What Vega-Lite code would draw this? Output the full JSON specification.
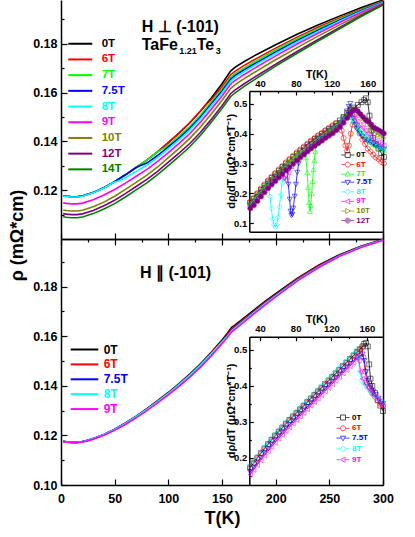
{
"$schema": "https://vega.github.io/schema/vega-lite/v6.json",
"width": 415, "height": 537, "autosize": "none", "padding": 0,
"config": {
  "font": "Liberation Sans",
  "view": {"stroke": null},
  "axis": {"grid": false, "domainColor": "#000000", "domainWidth": 1.5, "tickColor": "#000000", "tickWidth": 1.2, "labelColor": "#000000", "titleColor": "#000000", "labelFontWeight": "bold", "titleFontWeight": "bold", "labelFlush": false, "labelOverlap": false, "labelFont": "Liberation Sans", "titleFont": "Liberation Sans"},
  "legend": {"labelFont": "Liberation Sans", "labelFontWeight": "bold", "padding": 0, "offset": 0}
},
"datasets": {
"top": [
{"T":2,"v":0.1177,"f":"0T"},{"T":5,"v":0.1175,"f":"0T"},{"T":10,"v":0.1173,"f":"0T"},{"T":15,"v":0.1173,"f":"0T"},{"T":20,"v":0.1176,"f":"0T"},{"T":30,"v":0.119,"f":"0T"},{"T":40,"v":0.121,"f":"0T"},{"T":50,"v":0.1235,"f":"0T"},{"T":60,"v":0.1263,"f":"0T"},{"T":70,"v":0.1293,"f":"0T"},{"T":80,"v":0.1323,"f":"0T"},{"T":90,"v":0.1357,"f":"0T"},{"T":100,"v":0.1395,"f":"0T"},{"T":110,"v":0.1434,"f":"0T"},{"T":120,"v":0.1476,"f":"0T"},{"T":130,"v":0.1524,"f":"0T"},{"T":140,"v":0.1578,"f":"0T"},{"T":150,"v":0.1636,"f":"0T"},{"T":158,"v":0.1688,"f":"0T"},{"T":162,"v":0.1703,"f":"0T"},{"T":170,"v":0.1725,"f":"0T"},{"T":180,"v":0.175,"f":"0T"},{"T":200,"v":0.1796,"f":"0T"},{"T":220,"v":0.1839,"f":"0T"},{"T":240,"v":0.1878,"f":"0T"},{"T":260,"v":0.1914,"f":"0T"},{"T":280,"v":0.1948,"f":"0T"},{"T":300,"v":0.1979,"f":"0T"},
{"T":2,"v":0.1177,"f":"6T"},{"T":5,"v":0.1175,"f":"6T"},{"T":10,"v":0.1173,"f":"6T"},{"T":15,"v":0.1173,"f":"6T"},{"T":20,"v":0.1176,"f":"6T"},{"T":30,"v":0.119,"f":"6T"},{"T":40,"v":0.121,"f":"6T"},{"T":50,"v":0.1235,"f":"6T"},{"T":60,"v":0.1263,"f":"6T"},{"T":70,"v":0.1293,"f":"6T"},{"T":80,"v":0.1323,"f":"6T"},{"T":90,"v":0.1357,"f":"6T"},{"T":100,"v":0.1395,"f":"6T"},{"T":110,"v":0.1434,"f":"6T"},{"T":120,"v":0.1476,"f":"6T"},{"T":130,"v":0.1524,"f":"6T"},{"T":134,"v":0.1545,"f":"6T"},{"T":137,"v":0.1558,"f":"6T"},{"T":140,"v":0.1571,"f":"6T"},{"T":150,"v":0.1624,"f":"6T"},{"T":158,"v":0.1673,"f":"6T"},{"T":162,"v":0.1687,"f":"6T"},{"T":170,"v":0.1709,"f":"6T"},{"T":180,"v":0.1734,"f":"6T"},{"T":200,"v":0.1782,"f":"6T"},{"T":220,"v":0.1827,"f":"6T"},{"T":240,"v":0.1868,"f":"6T"},{"T":260,"v":0.1906,"f":"6T"},{"T":280,"v":0.1942,"f":"6T"},{"T":300,"v":0.1975,"f":"6T"},
{"T":2,"v":0.1177,"f":"7T"},{"T":5,"v":0.1175,"f":"7T"},{"T":10,"v":0.1173,"f":"7T"},{"T":15,"v":0.1173,"f":"7T"},{"T":20,"v":0.1176,"f":"7T"},{"T":30,"v":0.119,"f":"7T"},{"T":40,"v":0.121,"f":"7T"},{"T":50,"v":0.1235,"f":"7T"},{"T":60,"v":0.1263,"f":"7T"},{"T":70,"v":0.1293,"f":"7T"},{"T":80,"v":0.1323,"f":"7T"},{"T":90,"v":0.1357,"f":"7T"},{"T":93,"v":0.1365,"f":"7T"},{"T":96,"v":0.1372,"f":"7T"},{"T":100,"v":0.1384,"f":"7T"},{"T":110,"v":0.1421,"f":"7T"},{"T":120,"v":0.1461,"f":"7T"},{"T":130,"v":0.1508,"f":"7T"},{"T":140,"v":0.1561,"f":"7T"},{"T":150,"v":0.1614,"f":"7T"},{"T":158,"v":0.1662,"f":"7T"},{"T":162,"v":0.1677,"f":"7T"},{"T":170,"v":0.1699,"f":"7T"},{"T":180,"v":0.1725,"f":"7T"},{"T":200,"v":0.1774,"f":"7T"},{"T":220,"v":0.182,"f":"7T"},{"T":240,"v":0.1862,"f":"7T"},{"T":260,"v":0.1902,"f":"7T"},{"T":280,"v":0.1939,"f":"7T"},{"T":300,"v":0.1973,"f":"7T"},
{"T":2,"v":0.1177,"f":"7.5T"},{"T":5,"v":0.1175,"f":"7.5T"},{"T":10,"v":0.1173,"f":"7.5T"},{"T":15,"v":0.1173,"f":"7.5T"},{"T":20,"v":0.1176,"f":"7.5T"},{"T":30,"v":0.119,"f":"7.5T"},{"T":40,"v":0.121,"f":"7.5T"},{"T":50,"v":0.1235,"f":"7.5T"},{"T":60,"v":0.1263,"f":"7.5T"},{"T":70,"v":0.1293,"f":"7.5T"},{"T":73,"v":0.1299,"f":"7.5T"},{"T":76,"v":0.1304,"f":"7.5T"},{"T":80,"v":0.1311,"f":"7.5T"},{"T":90,"v":0.1342,"f":"7.5T"},{"T":100,"v":0.1377,"f":"7.5T"},{"T":110,"v":0.1413,"f":"7.5T"},{"T":120,"v":0.1453,"f":"7.5T"},{"T":130,"v":0.15,"f":"7.5T"},{"T":140,"v":0.1553,"f":"7.5T"},{"T":150,"v":0.1606,"f":"7.5T"},{"T":158,"v":0.1654,"f":"7.5T"},{"T":162,"v":0.1669,"f":"7.5T"},{"T":170,"v":0.1691,"f":"7.5T"},{"T":180,"v":0.1717,"f":"7.5T"},{"T":200,"v":0.1766,"f":"7.5T"},{"T":220,"v":0.1813,"f":"7.5T"},{"T":240,"v":0.1856,"f":"7.5T"},{"T":260,"v":0.1897,"f":"7.5T"},{"T":280,"v":0.1936,"f":"7.5T"},{"T":300,"v":0.1971,"f":"7.5T"},
{"T":2,"v":0.1176,"f":"8T"},{"T":5,"v":0.1174,"f":"8T"},{"T":10,"v":0.1172,"f":"8T"},{"T":15,"v":0.1172,"f":"8T"},{"T":20,"v":0.1175,"f":"8T"},{"T":30,"v":0.1189,"f":"8T"},{"T":40,"v":0.1209,"f":"8T"},{"T":48,"v":0.1229,"f":"8T"},{"T":52,"v":0.1236,"f":"8T"},{"T":56,"v":0.1242,"f":"8T"},{"T":62,"v":0.1256,"f":"8T"},{"T":70,"v":0.1277,"f":"8T"},{"T":80,"v":0.1303,"f":"8T"},{"T":90,"v":0.1334,"f":"8T"},{"T":100,"v":0.1369,"f":"8T"},{"T":110,"v":0.1406,"f":"8T"},{"T":120,"v":0.1446,"f":"8T"},{"T":130,"v":0.1493,"f":"8T"},{"T":140,"v":0.1546,"f":"8T"},{"T":150,"v":0.1598,"f":"8T"},{"T":158,"v":0.1646,"f":"8T"},{"T":162,"v":0.1661,"f":"8T"},{"T":170,"v":0.1684,"f":"8T"},{"T":180,"v":0.171,"f":"8T"},{"T":200,"v":0.176,"f":"8T"},{"T":220,"v":0.1807,"f":"8T"},{"T":240,"v":0.1851,"f":"8T"},{"T":260,"v":0.1893,"f":"8T"},{"T":280,"v":0.1933,"f":"8T"},{"T":300,"v":0.1969,"f":"8T"},
{"T":2,"v":0.1148,"f":"9T"},{"T":5,"v":0.1146,"f":"9T"},{"T":10,"v":0.1144,"f":"9T"},{"T":15,"v":0.1144,"f":"9T"},{"T":20,"v":0.1147,"f":"9T"},{"T":30,"v":0.1161,"f":"9T"},{"T":40,"v":0.118,"f":"9T"},{"T":50,"v":0.1203,"f":"9T"},{"T":60,"v":0.1229,"f":"9T"},{"T":70,"v":0.1257,"f":"9T"},{"T":80,"v":0.1285,"f":"9T"},{"T":90,"v":0.1318,"f":"9T"},{"T":100,"v":0.1354,"f":"9T"},{"T":110,"v":0.1392,"f":"9T"},{"T":120,"v":0.1432,"f":"9T"},{"T":130,"v":0.1479,"f":"9T"},{"T":140,"v":0.1532,"f":"9T"},{"T":150,"v":0.1586,"f":"9T"},{"T":158,"v":0.1635,"f":"9T"},{"T":162,"v":0.1649,"f":"9T"},{"T":170,"v":0.1672,"f":"9T"},{"T":180,"v":0.1699,"f":"9T"},{"T":200,"v":0.175,"f":"9T"},{"T":220,"v":0.1799,"f":"9T"},{"T":240,"v":0.1844,"f":"9T"},{"T":260,"v":0.1888,"f":"9T"},{"T":280,"v":0.1929,"f":"9T"},{"T":300,"v":0.1967,"f":"9T"},
{"T":2,"v":0.1119,"f":"10T"},{"T":5,"v":0.1117,"f":"10T"},{"T":10,"v":0.1115,"f":"10T"},{"T":15,"v":0.1115,"f":"10T"},{"T":20,"v":0.1118,"f":"10T"},{"T":30,"v":0.1132,"f":"10T"},{"T":40,"v":0.1151,"f":"10T"},{"T":50,"v":0.1175,"f":"10T"},{"T":60,"v":0.1203,"f":"10T"},{"T":70,"v":0.1232,"f":"10T"},{"T":80,"v":0.1262,"f":"10T"},{"T":90,"v":0.1295,"f":"10T"},{"T":100,"v":0.1333,"f":"10T"},{"T":110,"v":0.1371,"f":"10T"},{"T":120,"v":0.1412,"f":"10T"},{"T":130,"v":0.1459,"f":"10T"},{"T":140,"v":0.1512,"f":"10T"},{"T":150,"v":0.1567,"f":"10T"},{"T":158,"v":0.1616,"f":"10T"},{"T":162,"v":0.1631,"f":"10T"},{"T":170,"v":0.1655,"f":"10T"},{"T":180,"v":0.1682,"f":"10T"},{"T":200,"v":0.1734,"f":"10T"},{"T":220,"v":0.1784,"f":"10T"},{"T":240,"v":0.1832,"f":"10T"},{"T":260,"v":0.1878,"f":"10T"},{"T":280,"v":0.1922,"f":"10T"},{"T":300,"v":0.1964,"f":"10T"},
{"T":2,"v":0.1104,"f":"12T"},{"T":5,"v":0.1102,"f":"12T"},{"T":10,"v":0.11,"f":"12T"},{"T":15,"v":0.11,"f":"12T"},{"T":20,"v":0.1103,"f":"12T"},{"T":30,"v":0.1117,"f":"12T"},{"T":40,"v":0.1136,"f":"12T"},{"T":50,"v":0.1159,"f":"12T"},{"T":60,"v":0.1186,"f":"12T"},{"T":70,"v":0.1215,"f":"12T"},{"T":80,"v":0.1244,"f":"12T"},{"T":90,"v":0.1277,"f":"12T"},{"T":100,"v":0.1315,"f":"12T"},{"T":110,"v":0.1352,"f":"12T"},{"T":120,"v":0.1391,"f":"12T"},{"T":130,"v":0.1437,"f":"12T"},{"T":140,"v":0.149,"f":"12T"},{"T":150,"v":0.1546,"f":"12T"},{"T":158,"v":0.1595,"f":"12T"},{"T":162,"v":0.161,"f":"12T"},{"T":170,"v":0.1634,"f":"12T"},{"T":180,"v":0.1662,"f":"12T"},{"T":200,"v":0.1716,"f":"12T"},{"T":220,"v":0.1768,"f":"12T"},{"T":240,"v":0.1818,"f":"12T"},{"T":260,"v":0.1868,"f":"12T"},{"T":280,"v":0.1916,"f":"12T"},{"T":300,"v":0.1961,"f":"12T"},
{"T":2,"v":0.1091,"f":"14T"},{"T":5,"v":0.1089,"f":"14T"},{"T":10,"v":0.1087,"f":"14T"},{"T":15,"v":0.1087,"f":"14T"},{"T":20,"v":0.109,"f":"14T"},{"T":30,"v":0.1104,"f":"14T"},{"T":40,"v":0.1123,"f":"14T"},{"T":50,"v":0.1145,"f":"14T"},{"T":60,"v":0.1172,"f":"14T"},{"T":70,"v":0.1201,"f":"14T"},{"T":80,"v":0.123,"f":"14T"},{"T":90,"v":0.1264,"f":"14T"},{"T":100,"v":0.1301,"f":"14T"},{"T":110,"v":0.1338,"f":"14T"},{"T":120,"v":0.1378,"f":"14T"},{"T":130,"v":0.1425,"f":"14T"},{"T":140,"v":0.1478,"f":"14T"},{"T":150,"v":0.1534,"f":"14T"},{"T":158,"v":0.1583,"f":"14T"},{"T":162,"v":0.1598,"f":"14T"},{"T":170,"v":0.1623,"f":"14T"},{"T":180,"v":0.1652,"f":"14T"},{"T":200,"v":0.1708,"f":"14T"},{"T":220,"v":0.1761,"f":"14T"},{"T":240,"v":0.1812,"f":"14T"},{"T":260,"v":0.1862,"f":"14T"},{"T":280,"v":0.1912,"f":"14T"},{"T":300,"v":0.1958,"f":"14T"}
],
"bot": [
{"T":2,"v":0.1176,"f":"0T"},{"T":5,"v":0.1174,"f":"0T"},{"T":10,"v":0.1172,"f":"0T"},{"T":15,"v":0.1172,"f":"0T"},{"T":20,"v":0.1175,"f":"0T"},{"T":25,"v":0.118,"f":"0T"},{"T":30,"v":0.1187,"f":"0T"},{"T":40,"v":0.1204,"f":"0T"},{"T":50,"v":0.1225,"f":"0T"},{"T":60,"v":0.125,"f":"0T"},{"T":70,"v":0.1278,"f":"0T"},{"T":80,"v":0.1308,"f":"0T"},{"T":90,"v":0.134,"f":"0T"},{"T":100,"v":0.1373,"f":"0T"},{"T":110,"v":0.1409,"f":"0T"},{"T":120,"v":0.1447,"f":"0T"},{"T":130,"v":0.1489,"f":"0T"},{"T":140,"v":0.1535,"f":"0T"},{"T":150,"v":0.1585,"f":"0T"},{"T":155,"v":0.1612,"f":"0T"},{"T":159,"v":0.1636,"f":"0T"},{"T":162,"v":0.1645,"f":"0T"},{"T":170,"v":0.1672,"f":"0T"},{"T":180,"v":0.1706,"f":"0T"},{"T":190,"v":0.174,"f":"0T"},{"T":200,"v":0.1772,"f":"0T"},{"T":220,"v":0.1833,"f":"0T"},{"T":240,"v":0.1886,"f":"0T"},{"T":260,"v":0.193,"f":"0T"},{"T":280,"v":0.1964,"f":"0T"},{"T":300,"v":0.199,"f":"0T"},
{"T":2,"v":0.1176,"f":"6T"},{"T":5,"v":0.1174,"f":"6T"},{"T":10,"v":0.1172,"f":"6T"},{"T":15,"v":0.1172,"f":"6T"},{"T":20,"v":0.1175,"f":"6T"},{"T":25,"v":0.118,"f":"6T"},{"T":30,"v":0.1187,"f":"6T"},{"T":40,"v":0.1204,"f":"6T"},{"T":50,"v":0.1224,"f":"6T"},{"T":60,"v":0.1249,"f":"6T"},{"T":70,"v":0.1276,"f":"6T"},{"T":80,"v":0.1306,"f":"6T"},{"T":90,"v":0.1338,"f":"6T"},{"T":100,"v":0.137,"f":"6T"},{"T":110,"v":0.1406,"f":"6T"},{"T":120,"v":0.1444,"f":"6T"},{"T":130,"v":0.1486,"f":"6T"},{"T":140,"v":0.1532,"f":"6T"},{"T":150,"v":0.1581,"f":"6T"},{"T":155,"v":0.1607,"f":"6T"},{"T":159,"v":0.163,"f":"6T"},{"T":162,"v":0.1639,"f":"6T"},{"T":170,"v":0.1667,"f":"6T"},{"T":180,"v":0.1701,"f":"6T"},{"T":190,"v":0.1736,"f":"6T"},{"T":200,"v":0.1768,"f":"6T"},{"T":220,"v":0.183,"f":"6T"},{"T":240,"v":0.1883,"f":"6T"},{"T":260,"v":0.1928,"f":"6T"},{"T":280,"v":0.1963,"f":"6T"},{"T":300,"v":0.1989,"f":"6T"},
{"T":2,"v":0.1176,"f":"7.5T"},{"T":5,"v":0.1174,"f":"7.5T"},{"T":10,"v":0.1172,"f":"7.5T"},{"T":15,"v":0.1172,"f":"7.5T"},{"T":20,"v":0.1175,"f":"7.5T"},{"T":25,"v":0.118,"f":"7.5T"},{"T":30,"v":0.1187,"f":"7.5T"},{"T":40,"v":0.1204,"f":"7.5T"},{"T":50,"v":0.1224,"f":"7.5T"},{"T":60,"v":0.1248,"f":"7.5T"},{"T":70,"v":0.1275,"f":"7.5T"},{"T":80,"v":0.1304,"f":"7.5T"},{"T":90,"v":0.1335,"f":"7.5T"},{"T":100,"v":0.1367,"f":"7.5T"},{"T":110,"v":0.1403,"f":"7.5T"},{"T":120,"v":0.144,"f":"7.5T"},{"T":130,"v":0.1481,"f":"7.5T"},{"T":140,"v":0.1527,"f":"7.5T"},{"T":150,"v":0.1576,"f":"7.5T"},{"T":155,"v":0.1601,"f":"7.5T"},{"T":159,"v":0.1624,"f":"7.5T"},{"T":162,"v":0.1634,"f":"7.5T"},{"T":170,"v":0.1662,"f":"7.5T"},{"T":180,"v":0.1697,"f":"7.5T"},{"T":190,"v":0.1731,"f":"7.5T"},{"T":200,"v":0.1764,"f":"7.5T"},{"T":220,"v":0.1826,"f":"7.5T"},{"T":240,"v":0.188,"f":"7.5T"},{"T":260,"v":0.1926,"f":"7.5T"},{"T":280,"v":0.1961,"f":"7.5T"},{"T":300,"v":0.1988,"f":"7.5T"},
{"T":2,"v":0.1176,"f":"8T"},{"T":5,"v":0.1174,"f":"8T"},{"T":10,"v":0.1172,"f":"8T"},{"T":15,"v":0.1172,"f":"8T"},{"T":20,"v":0.1175,"f":"8T"},{"T":25,"v":0.118,"f":"8T"},{"T":30,"v":0.1187,"f":"8T"},{"T":40,"v":0.1204,"f":"8T"},{"T":50,"v":0.1224,"f":"8T"},{"T":60,"v":0.1248,"f":"8T"},{"T":70,"v":0.1276,"f":"8T"},{"T":80,"v":0.1305,"f":"8T"},{"T":90,"v":0.1336,"f":"8T"},{"T":100,"v":0.1369,"f":"8T"},{"T":110,"v":0.1405,"f":"8T"},{"T":120,"v":0.1442,"f":"8T"},{"T":130,"v":0.1484,"f":"8T"},{"T":140,"v":0.1529,"f":"8T"},{"T":150,"v":0.1577,"f":"8T"},{"T":155,"v":0.16,"f":"8T"},{"T":159,"v":0.1622,"f":"8T"},{"T":162,"v":0.1633,"f":"8T"},{"T":170,"v":0.1661,"f":"8T"},{"T":180,"v":0.1696,"f":"8T"},{"T":190,"v":0.173,"f":"8T"},{"T":200,"v":0.1763,"f":"8T"},{"T":220,"v":0.1825,"f":"8T"},{"T":240,"v":0.1879,"f":"8T"},{"T":260,"v":0.1925,"f":"8T"},{"T":280,"v":0.1961,"f":"8T"},{"T":300,"v":0.1988,"f":"8T"},
{"T":2,"v":0.1175,"f":"9T"},{"T":5,"v":0.1173,"f":"9T"},{"T":10,"v":0.1171,"f":"9T"},{"T":15,"v":0.1171,"f":"9T"},{"T":20,"v":0.1174,"f":"9T"},{"T":25,"v":0.1178,"f":"9T"},{"T":30,"v":0.1185,"f":"9T"},{"T":40,"v":0.1201,"f":"9T"},{"T":50,"v":0.1221,"f":"9T"},{"T":60,"v":0.1244,"f":"9T"},{"T":70,"v":0.1271,"f":"9T"},{"T":80,"v":0.13,"f":"9T"},{"T":90,"v":0.1331,"f":"9T"},{"T":100,"v":0.1363,"f":"9T"},{"T":110,"v":0.1398,"f":"9T"},{"T":120,"v":0.1435,"f":"9T"},{"T":130,"v":0.1475,"f":"9T"},{"T":140,"v":0.152,"f":"9T"},{"T":150,"v":0.157,"f":"9T"},{"T":155,"v":0.1595,"f":"9T"},{"T":159,"v":0.1618,"f":"9T"},{"T":162,"v":0.1628,"f":"9T"},{"T":170,"v":0.1656,"f":"9T"},{"T":180,"v":0.1691,"f":"9T"},{"T":190,"v":0.1725,"f":"9T"},{"T":200,"v":0.1759,"f":"9T"},{"T":220,"v":0.1822,"f":"9T"},{"T":240,"v":0.1877,"f":"9T"},{"T":260,"v":0.1923,"f":"9T"},{"T":280,"v":0.1959,"f":"9T"},{"T":300,"v":0.1987,"f":"9T"}
],
"ins1": [
{"T":29,"v":0.168,"f":"0T"},{"T":33,"v":0.181,"f":"0T"},{"T":37,"v":0.197,"f":"0T"},{"T":41,"v":0.212,"f":"0T"},{"T":45,"v":0.226,"f":"0T"},{"T":49,"v":0.24,"f":"0T"},{"T":53,"v":0.252,"f":"0T"},{"T":57,"v":0.264,"f":"0T"},{"T":61,"v":0.276,"f":"0T"},{"T":65,"v":0.288,"f":"0T"},{"T":69,"v":0.3,"f":"0T"},{"T":73,"v":0.311,"f":"0T"},{"T":77,"v":0.322,"f":"0T"},{"T":81,"v":0.333,"f":"0T"},{"T":85,"v":0.343,"f":"0T"},{"T":89,"v":0.353,"f":"0T"},{"T":93,"v":0.363,"f":"0T"},{"T":97,"v":0.373,"f":"0T"},{"T":101,"v":0.382,"f":"0T"},{"T":105,"v":0.391,"f":"0T"},{"T":109,"v":0.399,"f":"0T"},{"T":113,"v":0.408,"f":"0T"},{"T":117,"v":0.416,"f":"0T"},{"T":121,"v":0.424,"f":"0T"},{"T":125,"v":0.434,"f":"0T"},{"T":129,"v":0.444,"f":"0T"},{"T":133,"v":0.456,"f":"0T"},{"T":137,"v":0.469,"f":"0T"},{"T":141,"v":0.478,"f":"0T"},{"T":145,"v":0.487,"f":"0T"},{"T":149,"v":0.496,"f":"0T"},{"T":153,"v":0.505,"f":"0T"},{"T":156,"v":0.512,"f":"0T"},{"T":158,"v":0.518,"f":"0T"},{"T":160,"v":0.505,"f":"0T"},{"T":162,"v":0.46,"f":"0T"},{"T":164,"v":0.41,"f":"0T"},{"T":166,"v":0.385,"f":"0T"},{"T":169,"v":0.365,"f":"0T"},{"T":172,"v":0.35,"f":"0T"},{"T":175,"v":0.335,"f":"0T"},{"T":178,"v":0.322,"f":"0T"},
{"T":29,"v":0.172,"f":"6T"},{"T":33,"v":0.185,"f":"6T"},{"T":37,"v":0.201,"f":"6T"},{"T":41,"v":0.216,"f":"6T"},{"T":45,"v":0.23,"f":"6T"},{"T":49,"v":0.244,"f":"6T"},{"T":53,"v":0.256,"f":"6T"},{"T":57,"v":0.268,"f":"6T"},{"T":61,"v":0.28,"f":"6T"},{"T":65,"v":0.292,"f":"6T"},{"T":69,"v":0.304,"f":"6T"},{"T":73,"v":0.315,"f":"6T"},{"T":77,"v":0.326,"f":"6T"},{"T":81,"v":0.337,"f":"6T"},{"T":85,"v":0.347,"f":"6T"},{"T":89,"v":0.357,"f":"6T"},{"T":93,"v":0.367,"f":"6T"},{"T":97,"v":0.377,"f":"6T"},{"T":101,"v":0.386,"f":"6T"},{"T":105,"v":0.395,"f":"6T"},{"T":109,"v":0.403,"f":"6T"},{"T":113,"v":0.412,"f":"6T"},{"T":117,"v":0.42,"f":"6T"},{"T":121,"v":0.428,"f":"6T"},{"T":125,"v":0.434,"f":"6T"},{"T":129,"v":0.43,"f":"6T"},{"T":131,"v":0.41,"f":"6T"},{"T":133,"v":0.385,"f":"6T"},{"T":135,"v":0.36,"f":"6T"},{"T":137,"v":0.342,"f":"6T"},{"T":139,"v":0.36,"f":"6T"},{"T":141,"v":0.4,"f":"6T"},{"T":143,"v":0.43,"f":"6T"},{"T":145,"v":0.44,"f":"6T"},{"T":148,"v":0.42,"f":"6T"},{"T":151,"v":0.4,"f":"6T"},{"T":154,"v":0.38,"f":"6T"},{"T":157,"v":0.365,"f":"6T"},{"T":160,"v":0.35,"f":"6T"},{"T":163,"v":0.34,"f":"6T"},{"T":166,"v":0.33,"f":"6T"},{"T":169,"v":0.32,"f":"6T"},{"T":172,"v":0.315,"f":"6T"},{"T":175,"v":0.305,"f":"6T"},{"T":178,"v":0.3,"f":"6T"},
{"T":29,"v":0.165,"f":"7T"},{"T":33,"v":0.178,"f":"7T"},{"T":37,"v":0.194,"f":"7T"},{"T":41,"v":0.209,"f":"7T"},{"T":45,"v":0.223,"f":"7T"},{"T":49,"v":0.237,"f":"7T"},{"T":53,"v":0.249,"f":"7T"},{"T":57,"v":0.261,"f":"7T"},{"T":61,"v":0.273,"f":"7T"},{"T":65,"v":0.285,"f":"7T"},{"T":69,"v":0.297,"f":"7T"},{"T":73,"v":0.308,"f":"7T"},{"T":77,"v":0.319,"f":"7T"},{"T":81,"v":0.33,"f":"7T"},{"T":85,"v":0.34,"f":"7T"},{"T":89,"v":0.34,"f":"7T"},{"T":91,"v":0.32,"f":"7T"},{"T":92.5,"v":0.27,"f":"7T"},{"T":93.5,"v":0.22,"f":"7T"},{"T":94.5,"v":0.17,"f":"7T"},{"T":95.5,"v":0.14,"f":"7T"},{"T":96.5,"v":0.16,"f":"7T"},{"T":97.5,"v":0.2,"f":"7T"},{"T":98.5,"v":0.24,"f":"7T"},{"T":99.5,"v":0.28,"f":"7T"},{"T":100.5,"v":0.31,"f":"7T"},{"T":101.5,"v":0.34,"f":"7T"},{"T":103,"v":0.365,"f":"7T"},{"T":105,"v":0.385,"f":"7T"},{"T":109,"v":0.396,"f":"7T"},{"T":113,"v":0.405,"f":"7T"},{"T":117,"v":0.413,"f":"7T"},{"T":121,"v":0.421,"f":"7T"},{"T":125,"v":0.431,"f":"7T"},{"T":129,"v":0.441,"f":"7T"},{"T":133,"v":0.453,"f":"7T"},{"T":137,"v":0.465,"f":"7T"},{"T":139,"v":0.47,"f":"7T"},{"T":141,"v":0.468,"f":"7T"},{"T":143,"v":0.455,"f":"7T"},{"T":145,"v":0.44,"f":"7T"},{"T":148,"v":0.425,"f":"7T"},{"T":151,"v":0.41,"f":"7T"},{"T":154,"v":0.4,"f":"7T"},{"T":157,"v":0.39,"f":"7T"},{"T":160,"v":0.38,"f":"7T"},{"T":163,"v":0.372,"f":"7T"},{"T":166,"v":0.365,"f":"7T"},{"T":169,"v":0.36,"f":"7T"},{"T":172,"v":0.355,"f":"7T"},{"T":175,"v":0.35,"f":"7T"},{"T":178,"v":0.345,"f":"7T"},
{"T":29,"v":0.16,"f":"7.5T"},{"T":33,"v":0.173,"f":"7.5T"},{"T":37,"v":0.189,"f":"7.5T"},{"T":41,"v":0.204,"f":"7.5T"},{"T":45,"v":0.218,"f":"7.5T"},{"T":49,"v":0.232,"f":"7.5T"},{"T":53,"v":0.244,"f":"7.5T"},{"T":57,"v":0.256,"f":"7.5T"},{"T":61,"v":0.268,"f":"7.5T"},{"T":65,"v":0.28,"f":"7.5T"},{"T":68,"v":0.288,"f":"7.5T"},{"T":70,"v":0.275,"f":"7.5T"},{"T":71.5,"v":0.23,"f":"7.5T"},{"T":73,"v":0.18,"f":"7.5T"},{"T":74,"v":0.14,"f":"7.5T"},{"T":75,"v":0.125,"f":"7.5T"},{"T":76,"v":0.13,"f":"7.5T"},{"T":77,"v":0.15,"f":"7.5T"},{"T":78.5,"v":0.19,"f":"7.5T"},{"T":80,"v":0.23,"f":"7.5T"},{"T":81.5,"v":0.27,"f":"7.5T"},{"T":83,"v":0.3,"f":"7.5T"},{"T":85,"v":0.325,"f":"7.5T"},{"T":89,"v":0.342,"f":"7.5T"},{"T":93,"v":0.355,"f":"7.5T"},{"T":97,"v":0.365,"f":"7.5T"},{"T":101,"v":0.374,"f":"7.5T"},{"T":105,"v":0.383,"f":"7.5T"},{"T":109,"v":0.391,"f":"7.5T"},{"T":113,"v":0.4,"f":"7.5T"},{"T":117,"v":0.408,"f":"7.5T"},{"T":121,"v":0.416,"f":"7.5T"},{"T":125,"v":0.426,"f":"7.5T"},{"T":129,"v":0.436,"f":"7.5T"},{"T":133,"v":0.452,"f":"7.5T"},{"T":137,"v":0.475,"f":"7.5T"},{"T":139,"v":0.49,"f":"7.5T"},{"T":140.5,"v":0.5,"f":"7.5T"},{"T":142,"v":0.48,"f":"7.5T"},{"T":144,"v":0.45,"f":"7.5T"},{"T":146,"v":0.43,"f":"7.5T"},{"T":148,"v":0.415,"f":"7.5T"},{"T":151,"v":0.4,"f":"7.5T"},{"T":154,"v":0.39,"f":"7.5T"},{"T":157,"v":0.38,"f":"7.5T"},{"T":160,"v":0.375,"f":"7.5T"},{"T":163,"v":0.37,"f":"7.5T"},{"T":166,"v":0.365,"f":"7.5T"},{"T":169,"v":0.36,"f":"7.5T"},{"T":172,"v":0.355,"f":"7.5T"},{"T":175,"v":0.35,"f":"7.5T"},{"T":178,"v":0.347,"f":"7.5T"},
{"T":29,"v":0.155,"f":"8T"},{"T":33,"v":0.168,"f":"8T"},{"T":37,"v":0.184,"f":"8T"},{"T":41,"v":0.199,"f":"8T"},{"T":45,"v":0.213,"f":"8T"},{"T":48,"v":0.23,"f":"8T"},{"T":49.5,"v":0.22,"f":"8T"},{"T":51,"v":0.19,"f":"8T"},{"T":52.5,"v":0.15,"f":"8T"},{"T":54,"v":0.115,"f":"8T"},{"T":55.5,"v":0.095,"f":"8T"},{"T":57,"v":0.088,"f":"8T"},{"T":58.5,"v":0.095,"f":"8T"},{"T":60,"v":0.12,"f":"8T"},{"T":61.5,"v":0.155,"f":"8T"},{"T":63,"v":0.195,"f":"8T"},{"T":64.5,"v":0.235,"f":"8T"},{"T":66,"v":0.255,"f":"8T"},{"T":69,"v":0.285,"f":"8T"},{"T":73,"v":0.298,"f":"8T"},{"T":77,"v":0.309,"f":"8T"},{"T":81,"v":0.32,"f":"8T"},{"T":85,"v":0.33,"f":"8T"},{"T":89,"v":0.34,"f":"8T"},{"T":93,"v":0.35,"f":"8T"},{"T":97,"v":0.36,"f":"8T"},{"T":101,"v":0.369,"f":"8T"},{"T":105,"v":0.378,"f":"8T"},{"T":109,"v":0.386,"f":"8T"},{"T":113,"v":0.395,"f":"8T"},{"T":117,"v":0.403,"f":"8T"},{"T":121,"v":0.411,"f":"8T"},{"T":125,"v":0.421,"f":"8T"},{"T":129,"v":0.431,"f":"8T"},{"T":133,"v":0.443,"f":"8T"},{"T":137,"v":0.455,"f":"8T"},{"T":139,"v":0.46,"f":"8T"},{"T":141,"v":0.455,"f":"8T"},{"T":143,"v":0.445,"f":"8T"},{"T":145,"v":0.435,"f":"8T"},{"T":148,"v":0.425,"f":"8T"},{"T":151,"v":0.415,"f":"8T"},{"T":154,"v":0.405,"f":"8T"},{"T":157,"v":0.395,"f":"8T"},{"T":160,"v":0.39,"f":"8T"},{"T":163,"v":0.38,"f":"8T"},{"T":166,"v":0.375,"f":"8T"},{"T":169,"v":0.37,"f":"8T"},{"T":172,"v":0.36,"f":"8T"},{"T":175,"v":0.355,"f":"8T"},{"T":178,"v":0.35,"f":"8T"},
{"T":29,"v":0.152,"f":"9T"},{"T":33,"v":0.165,"f":"9T"},{"T":37,"v":0.181,"f":"9T"},{"T":41,"v":0.196,"f":"9T"},{"T":45,"v":0.21,"f":"9T"},{"T":49,"v":0.224,"f":"9T"},{"T":53,"v":0.236,"f":"9T"},{"T":57,"v":0.248,"f":"9T"},{"T":61,"v":0.258,"f":"9T"},{"T":64,"v":0.262,"f":"9T"},{"T":66,"v":0.25,"f":"9T"},{"T":68,"v":0.245,"f":"9T"},{"T":70,"v":0.255,"f":"9T"},{"T":72,"v":0.27,"f":"9T"},{"T":75,"v":0.29,"f":"9T"},{"T":79,"v":0.31,"f":"9T"},{"T":85,"v":0.327,"f":"9T"},{"T":89,"v":0.337,"f":"9T"},{"T":93,"v":0.347,"f":"9T"},{"T":97,"v":0.357,"f":"9T"},{"T":101,"v":0.366,"f":"9T"},{"T":105,"v":0.375,"f":"9T"},{"T":109,"v":0.383,"f":"9T"},{"T":113,"v":0.392,"f":"9T"},{"T":117,"v":0.4,"f":"9T"},{"T":121,"v":0.408,"f":"9T"},{"T":125,"v":0.418,"f":"9T"},{"T":129,"v":0.428,"f":"9T"},{"T":133,"v":0.44,"f":"9T"},{"T":137,"v":0.455,"f":"9T"},{"T":139,"v":0.462,"f":"9T"},{"T":141,"v":0.468,"f":"9T"},{"T":143,"v":0.465,"f":"9T"},{"T":145,"v":0.455,"f":"9T"},{"T":148,"v":0.44,"f":"9T"},{"T":151,"v":0.43,"f":"9T"},{"T":154,"v":0.42,"f":"9T"},{"T":157,"v":0.41,"f":"9T"},{"T":160,"v":0.4,"f":"9T"},{"T":163,"v":0.39,"f":"9T"},{"T":166,"v":0.38,"f":"9T"},{"T":169,"v":0.375,"f":"9T"},{"T":172,"v":0.37,"f":"9T"},{"T":175,"v":0.365,"f":"9T"},{"T":178,"v":0.36,"f":"9T"},
{"T":29,"v":0.17,"f":"10T"},{"T":33,"v":0.183,"f":"10T"},{"T":37,"v":0.196,"f":"10T"},{"T":41,"v":0.209,"f":"10T"},{"T":45,"v":0.222,"f":"10T"},{"T":49,"v":0.235,"f":"10T"},{"T":53,"v":0.247,"f":"10T"},{"T":57,"v":0.258,"f":"10T"},{"T":61,"v":0.27,"f":"10T"},{"T":65,"v":0.281,"f":"10T"},{"T":69,"v":0.293,"f":"10T"},{"T":73,"v":0.304,"f":"10T"},{"T":77,"v":0.314,"f":"10T"},{"T":81,"v":0.325,"f":"10T"},{"T":85,"v":0.335,"f":"10T"},{"T":89,"v":0.345,"f":"10T"},{"T":93,"v":0.355,"f":"10T"},{"T":97,"v":0.365,"f":"10T"},{"T":101,"v":0.374,"f":"10T"},{"T":105,"v":0.383,"f":"10T"},{"T":109,"v":0.391,"f":"10T"},{"T":113,"v":0.4,"f":"10T"},{"T":117,"v":0.408,"f":"10T"},{"T":121,"v":0.416,"f":"10T"},{"T":125,"v":0.426,"f":"10T"},{"T":129,"v":0.437,"f":"10T"},{"T":133,"v":0.452,"f":"10T"},{"T":137,"v":0.47,"f":"10T"},{"T":140,"v":0.485,"f":"10T"},{"T":142,"v":0.49,"f":"10T"},{"T":145,"v":0.48,"f":"10T"},{"T":148,"v":0.47,"f":"10T"},{"T":151,"v":0.46,"f":"10T"},{"T":154,"v":0.45,"f":"10T"},{"T":157,"v":0.44,"f":"10T"},{"T":160,"v":0.43,"f":"10T"},{"T":163,"v":0.42,"f":"10T"},{"T":166,"v":0.41,"f":"10T"},{"T":169,"v":0.4,"f":"10T"},{"T":172,"v":0.395,"f":"10T"},{"T":175,"v":0.39,"f":"10T"},{"T":178,"v":0.385,"f":"10T"},
{"T":29,"v":0.15,"f":"12T"},{"T":33,"v":0.16,"f":"12T"},{"T":37,"v":0.174,"f":"12T"},{"T":41,"v":0.189,"f":"12T"},{"T":45,"v":0.203,"f":"12T"},{"T":49,"v":0.217,"f":"12T"},{"T":53,"v":0.229,"f":"12T"},{"T":57,"v":0.241,"f":"12T"},{"T":61,"v":0.253,"f":"12T"},{"T":65,"v":0.265,"f":"12T"},{"T":69,"v":0.277,"f":"12T"},{"T":73,"v":0.288,"f":"12T"},{"T":77,"v":0.299,"f":"12T"},{"T":81,"v":0.31,"f":"12T"},{"T":85,"v":0.32,"f":"12T"},{"T":89,"v":0.33,"f":"12T"},{"T":93,"v":0.34,"f":"12T"},{"T":97,"v":0.35,"f":"12T"},{"T":101,"v":0.359,"f":"12T"},{"T":105,"v":0.368,"f":"12T"},{"T":109,"v":0.376,"f":"12T"},{"T":113,"v":0.385,"f":"12T"},{"T":117,"v":0.393,"f":"12T"},{"T":121,"v":0.401,"f":"12T"},{"T":125,"v":0.411,"f":"12T"},{"T":129,"v":0.422,"f":"12T"},{"T":133,"v":0.436,"f":"12T"},{"T":137,"v":0.452,"f":"12T"},{"T":140,"v":0.465,"f":"12T"},{"T":143,"v":0.475,"f":"12T"},{"T":146,"v":0.48,"f":"12T"},{"T":149,"v":0.475,"f":"12T"},{"T":152,"v":0.465,"f":"12T"},{"T":155,"v":0.455,"f":"12T"},{"T":158,"v":0.445,"f":"12T"},{"T":161,"v":0.44,"f":"12T"},{"T":164,"v":0.43,"f":"12T"},{"T":167,"v":0.42,"f":"12T"},{"T":170,"v":0.415,"f":"12T"},{"T":173,"v":0.41,"f":"12T"},{"T":176,"v":0.405,"f":"12T"},{"T":178,"v":0.4,"f":"12T"}
],
"ins2": [
{"T":29,"v":0.173,"f":"0T"},{"T":33,"v":0.186,"f":"0T"},{"T":37,"v":0.2,"f":"0T"},{"T":41,"v":0.213,"f":"0T"},{"T":45,"v":0.226,"f":"0T"},{"T":49,"v":0.238,"f":"0T"},{"T":53,"v":0.25,"f":"0T"},{"T":57,"v":0.262,"f":"0T"},{"T":61,"v":0.273,"f":"0T"},{"T":65,"v":0.284,"f":"0T"},{"T":69,"v":0.295,"f":"0T"},{"T":73,"v":0.305,"f":"0T"},{"T":77,"v":0.315,"f":"0T"},{"T":81,"v":0.325,"f":"0T"},{"T":85,"v":0.335,"f":"0T"},{"T":89,"v":0.345,"f":"0T"},{"T":93,"v":0.355,"f":"0T"},{"T":97,"v":0.365,"f":"0T"},{"T":101,"v":0.375,"f":"0T"},{"T":105,"v":0.385,"f":"0T"},{"T":109,"v":0.395,"f":"0T"},{"T":113,"v":0.405,"f":"0T"},{"T":117,"v":0.415,"f":"0T"},{"T":121,"v":0.425,"f":"0T"},{"T":125,"v":0.435,"f":"0T"},{"T":129,"v":0.445,"f":"0T"},{"T":133,"v":0.455,"f":"0T"},{"T":137,"v":0.465,"f":"0T"},{"T":141,"v":0.475,"f":"0T"},{"T":145,"v":0.485,"f":"0T"},{"T":149,"v":0.495,"f":"0T"},{"T":152,"v":0.502,"f":"0T"},{"T":155,"v":0.51,"f":"0T"},{"T":157,"v":0.517,"f":"0T"},{"T":159,"v":0.52,"f":"0T"},{"T":161,"v":0.51,"f":"0T"},{"T":162.5,"v":0.46,"f":"0T"},{"T":164,"v":0.42,"f":"0T"},{"T":166,"v":0.4,"f":"0T"},{"T":169,"v":0.38,"f":"0T"},{"T":172,"v":0.36,"f":"0T"},{"T":175,"v":0.345,"f":"0T"},{"T":178,"v":0.33,"f":"0T"},
{"T":29,"v":0.171,"f":"6T"},{"T":33,"v":0.184,"f":"6T"},{"T":37,"v":0.198,"f":"6T"},{"T":41,"v":0.211,"f":"6T"},{"T":45,"v":0.224,"f":"6T"},{"T":49,"v":0.236,"f":"6T"},{"T":53,"v":0.248,"f":"6T"},{"T":57,"v":0.26,"f":"6T"},{"T":61,"v":0.271,"f":"6T"},{"T":65,"v":0.282,"f":"6T"},{"T":69,"v":0.293,"f":"6T"},{"T":73,"v":0.303,"f":"6T"},{"T":77,"v":0.313,"f":"6T"},{"T":81,"v":0.323,"f":"6T"},{"T":85,"v":0.333,"f":"6T"},{"T":89,"v":0.343,"f":"6T"},{"T":93,"v":0.353,"f":"6T"},{"T":97,"v":0.363,"f":"6T"},{"T":101,"v":0.373,"f":"6T"},{"T":105,"v":0.383,"f":"6T"},{"T":109,"v":0.393,"f":"6T"},{"T":113,"v":0.403,"f":"6T"},{"T":117,"v":0.413,"f":"6T"},{"T":121,"v":0.423,"f":"6T"},{"T":125,"v":0.433,"f":"6T"},{"T":129,"v":0.443,"f":"6T"},{"T":133,"v":0.453,"f":"6T"},{"T":137,"v":0.463,"f":"6T"},{"T":141,"v":0.473,"f":"6T"},{"T":145,"v":0.483,"f":"6T"},{"T":149,"v":0.493,"f":"6T"},{"T":152,"v":0.5,"f":"6T"},{"T":154,"v":0.505,"f":"6T"},{"T":156,"v":0.48,"f":"6T"},{"T":158,"v":0.44,"f":"6T"},{"T":160,"v":0.41,"f":"6T"},{"T":163,"v":0.395,"f":"6T"},{"T":166,"v":0.38,"f":"6T"},{"T":169,"v":0.37,"f":"6T"},{"T":172,"v":0.36,"f":"6T"},{"T":175,"v":0.35,"f":"6T"},{"T":178,"v":0.345,"f":"6T"},
{"T":29,"v":0.16,"f":"7.5T"},{"T":33,"v":0.173,"f":"7.5T"},{"T":37,"v":0.187,"f":"7.5T"},{"T":41,"v":0.2,"f":"7.5T"},{"T":45,"v":0.213,"f":"7.5T"},{"T":49,"v":0.225,"f":"7.5T"},{"T":53,"v":0.237,"f":"7.5T"},{"T":57,"v":0.249,"f":"7.5T"},{"T":61,"v":0.26,"f":"7.5T"},{"T":65,"v":0.271,"f":"7.5T"},{"T":69,"v":0.282,"f":"7.5T"},{"T":73,"v":0.292,"f":"7.5T"},{"T":77,"v":0.302,"f":"7.5T"},{"T":81,"v":0.312,"f":"7.5T"},{"T":85,"v":0.322,"f":"7.5T"},{"T":89,"v":0.332,"f":"7.5T"},{"T":93,"v":0.342,"f":"7.5T"},{"T":97,"v":0.352,"f":"7.5T"},{"T":101,"v":0.362,"f":"7.5T"},{"T":105,"v":0.372,"f":"7.5T"},{"T":109,"v":0.382,"f":"7.5T"},{"T":113,"v":0.392,"f":"7.5T"},{"T":117,"v":0.402,"f":"7.5T"},{"T":121,"v":0.412,"f":"7.5T"},{"T":125,"v":0.422,"f":"7.5T"},{"T":129,"v":0.432,"f":"7.5T"},{"T":133,"v":0.442,"f":"7.5T"},{"T":137,"v":0.452,"f":"7.5T"},{"T":141,"v":0.462,"f":"7.5T"},{"T":145,"v":0.472,"f":"7.5T"},{"T":149,"v":0.478,"f":"7.5T"},{"T":152,"v":0.483,"f":"7.5T"},{"T":155,"v":0.488,"f":"7.5T"},{"T":157,"v":0.47,"f":"7.5T"},{"T":159,"v":0.44,"f":"7.5T"},{"T":161,"v":0.415,"f":"7.5T"},{"T":164,"v":0.4,"f":"7.5T"},{"T":167,"v":0.385,"f":"7.5T"},{"T":170,"v":0.375,"f":"7.5T"},{"T":173,"v":0.365,"f":"7.5T"},{"T":176,"v":0.355,"f":"7.5T"},{"T":178,"v":0.35,"f":"7.5T"},
{"T":29,"v":0.177,"f":"8T"},{"T":33,"v":0.19,"f":"8T"},{"T":37,"v":0.204,"f":"8T"},{"T":41,"v":0.217,"f":"8T"},{"T":45,"v":0.23,"f":"8T"},{"T":49,"v":0.242,"f":"8T"},{"T":53,"v":0.254,"f":"8T"},{"T":57,"v":0.266,"f":"8T"},{"T":61,"v":0.277,"f":"8T"},{"T":65,"v":0.288,"f":"8T"},{"T":69,"v":0.299,"f":"8T"},{"T":73,"v":0.309,"f":"8T"},{"T":77,"v":0.319,"f":"8T"},{"T":81,"v":0.329,"f":"8T"},{"T":85,"v":0.339,"f":"8T"},{"T":89,"v":0.349,"f":"8T"},{"T":93,"v":0.359,"f":"8T"},{"T":97,"v":0.369,"f":"8T"},{"T":101,"v":0.379,"f":"8T"},{"T":105,"v":0.389,"f":"8T"},{"T":109,"v":0.399,"f":"8T"},{"T":113,"v":0.409,"f":"8T"},{"T":117,"v":0.419,"f":"8T"},{"T":121,"v":0.429,"f":"8T"},{"T":125,"v":0.439,"f":"8T"},{"T":129,"v":0.449,"f":"8T"},{"T":133,"v":0.459,"f":"8T"},{"T":137,"v":0.469,"f":"8T"},{"T":141,"v":0.479,"f":"8T"},{"T":145,"v":0.489,"f":"8T"},{"T":148,"v":0.5,"f":"8T"},{"T":150,"v":0.48,"f":"8T"},{"T":152,"v":0.44,"f":"8T"},{"T":154,"v":0.415,"f":"8T"},{"T":157,"v":0.405,"f":"8T"},{"T":160,"v":0.395,"f":"8T"},{"T":163,"v":0.385,"f":"8T"},{"T":166,"v":0.375,"f":"8T"},{"T":169,"v":0.37,"f":"8T"},{"T":172,"v":0.365,"f":"8T"},{"T":175,"v":0.36,"f":"8T"},{"T":178,"v":0.355,"f":"8T"},
{"T":29,"v":0.153,"f":"9T"},{"T":33,"v":0.166,"f":"9T"},{"T":37,"v":0.18,"f":"9T"},{"T":41,"v":0.193,"f":"9T"},{"T":45,"v":0.206,"f":"9T"},{"T":49,"v":0.218,"f":"9T"},{"T":53,"v":0.23,"f":"9T"},{"T":57,"v":0.242,"f":"9T"},{"T":61,"v":0.253,"f":"9T"},{"T":65,"v":0.264,"f":"9T"},{"T":69,"v":0.275,"f":"9T"},{"T":73,"v":0.285,"f":"9T"},{"T":77,"v":0.295,"f":"9T"},{"T":81,"v":0.305,"f":"9T"},{"T":85,"v":0.315,"f":"9T"},{"T":89,"v":0.325,"f":"9T"},{"T":93,"v":0.335,"f":"9T"},{"T":97,"v":0.345,"f":"9T"},{"T":101,"v":0.355,"f":"9T"},{"T":105,"v":0.365,"f":"9T"},{"T":109,"v":0.375,"f":"9T"},{"T":113,"v":0.385,"f":"9T"},{"T":117,"v":0.395,"f":"9T"},{"T":121,"v":0.405,"f":"9T"},{"T":125,"v":0.415,"f":"9T"},{"T":129,"v":0.425,"f":"9T"},{"T":133,"v":0.435,"f":"9T"},{"T":137,"v":0.445,"f":"9T"},{"T":141,"v":0.455,"f":"9T"},{"T":145,"v":0.465,"f":"9T"},{"T":149,"v":0.478,"f":"9T"},{"T":151,"v":0.47,"f":"9T"},{"T":153,"v":0.44,"f":"9T"},{"T":155,"v":0.42,"f":"9T"},{"T":158,"v":0.405,"f":"9T"},{"T":161,"v":0.395,"f":"9T"},{"T":164,"v":0.385,"f":"9T"},{"T":167,"v":0.375,"f":"9T"},{"T":170,"v":0.37,"f":"9T"},{"T":173,"v":0.36,"f":"9T"},{"T":176,"v":0.35,"f":"9T"},{"T":178,"v":0.345,"f":"9T"}
]
},
"layer": [
{
 "layer": [
  {"data": {"name": "top"},
   "mark": {"type": "line", "strokeWidth": 1.6},
   "encoding": {
    "x": {"field": "T", "type": "quantitative", "scale": {"domain": [0, 300], "range": [61, 383], "nice": false, "zero": false},
      "axis": {"orient": "bottom", "offset": -298, "values": [0,25,50,75,100,125,150,175,200,225,250,275,300], "labels": false, "title": null, "tickSize": {"expr": "datum.value % 50 === 0 ? -6 : -3"}}},
    "y": {"field": "v", "type": "quantitative", "scale": {"domain": [0.1, 0.1979], "range": [239, 0], "nice": false, "zero": false},
      "axis": {"orient": "left", "offset": -61, "values": [0.11,0.12,0.13,0.14,0.15,0.16,0.17,0.18,0.19], "format": ".2f", "labelExpr": "round(datum.value*100) % 2 === 0 ? datum.label : ''", "tickSize": {"expr": "round(datum.value*100) % 2 === 0 ? -6 : -3"}, "labelPadding": 10, "labelFontSize": 12.5, "title": null}},
    "color": {"field": "f", "type": "nominal",
      "scale": {"domain": ["0T","6T","7T","7.5T","8T","9T","10T","12T","14T"], "range": ["#000000","#ff0000","#00ff00","#0000ff","#00ffff","#ff00ff","#808000","#800080","#008000"]},
      "legend": {"orient": "none", "legendX": 74.5, "legendY": 38, "title": null, "symbolType": "M-4,0H4", "symbolSize": 36, "symbolStrokeWidth": 2, "labelFontSize": 11.5, "labelFontWeight": "bold", "labelOffset": 15.7, "rowPadding": 2.7, "padding": 0,
        "labelColor": {"expr": "({'6T':'#ff0000','7T':'#00ff00','7.5T':'#0000ff','8T':'#00ffff','9T':'#ff00ff','10T':'#808000','12T':'#800080','14T':'#008000'})[datum.label] || '#000000'"}}}
   }},
  {"data": {"values": [{"t": "H ⊥ (-101)"}]},
   "mark": {"type": "text", "align": "left", "baseline": "alphabetic", "fontSize": 16, "fontWeight": "bold", "font": "Liberation Sans"},
   "encoding": {"x": {"datum": 75.2, "type": "quantitative"}, "y": {"datum": 0.1849, "type": "quantitative"}, "text": {"field": "t"}}},
  {"data": {"values": [{"t": "TaFe"}]},
   "mark": {"type": "text", "align": "left", "baseline": "alphabetic", "fontSize": 16, "fontWeight": "bold", "font": "Liberation Sans"},
   "encoding": {"x": {"datum": 75.2, "type": "quantitative"}, "y": {"datum": 0.1774, "type": "quantitative"}, "text": {"field": "t"}}},
  {"data": {"values": [{"t": "1.21"}]},
   "mark": {"type": "text", "align": "left", "baseline": "alphabetic", "fontSize": 9, "fontWeight": "bold", "font": "Liberation Sans", "dx": 37.5, "dy": 4},
   "encoding": {"x": {"datum": 75.2, "type": "quantitative"}, "y": {"datum": 0.1774, "type": "quantitative"}, "text": {"field": "t"}}},
  {"data": {"values": [{"t": "Te"}]},
   "mark": {"type": "text", "align": "left", "baseline": "alphabetic", "fontSize": 16, "fontWeight": "bold", "font": "Liberation Sans", "dx": 55},
   "encoding": {"x": {"datum": 75.2, "type": "quantitative"}, "y": {"datum": 0.1774, "type": "quantitative"}, "text": {"field": "t"}}},
  {"data": {"values": [{"t": "3"}]},
   "mark": {"type": "text", "align": "left", "baseline": "alphabetic", "fontSize": 9, "fontWeight": "bold", "font": "Liberation Sans", "dx": 74, "dy": 4},
   "encoding": {"x": {"datum": 75.2, "type": "quantitative"}, "y": {"datum": 0.1774, "type": "quantitative"}, "text": {"field": "t"}}}
 ]
},
{
 "layer": [
  {"data": {"name": "bot"},
   "mark": {"type": "line", "strokeWidth": 1.6},
   "encoding": {
    "x": {"field": "T", "type": "quantitative", "scale": {"domain": [0, 300], "range": [61, 383], "nice": false, "zero": false},
      "axis": {"orient": "bottom", "offset": -52, "values": [0,25,50,75,100,125,150,175,200,225,250,275,300], "labelExpr": "datum.value % 50 === 0 ? datum.label : ''", "tickSize": {"expr": "datum.value % 50 === 0 ? -6 : -3"}, "labelPadding": 13, "labelFontSize": 12.5, "title": "T(K)", "titleFontSize": 18, "titleBaseline": "alphabetic", "titleY": 38}},
    "y": {"field": "v", "type": "quantitative", "scale": {"domain": [0.1, 0.1992], "range": [485, 239], "nice": false, "zero": false},
      "axis": {"orient": "left", "offset": -61, "values": [0.1,0.11,0.12,0.13,0.14,0.15,0.16,0.17,0.18,0.19], "format": ".2f", "labelExpr": "round(datum.value*100) % 2 === 0 ? datum.label : ''", "tickSize": {"expr": "round(datum.value*100) % 2 === 0 ? -6 : -3"}, "labelPadding": 10, "labelFontSize": 12.5, "title": "ρ (mΩ*cm)", "titleFontSize": 18, "titleX": -44, "titleY": 235, "titleBaseline": "middle"}},
    "color": {"field": "f", "type": "nominal",
      "scale": {"domain": ["0T","6T","7.5T","8T","9T"], "range": ["#000000","#ff0000","#0000ff","#00ffff","#ff00ff"]},
      "legend": {"orient": "none", "legendX": 78.5, "legendY": 343.5, "title": null, "symbolType": "M-4.6,0H4.6", "symbolSize": 36, "symbolStrokeWidth": 2, "labelFontSize": 12, "labelFontWeight": "bold", "labelOffset": 13.2, "rowPadding": 2.9, "padding": 0,
        "labelColor": {"expr": "({'6T':'#ff0000','7.5T':'#0000ff','8T':'#00ffff','9T':'#ff00ff'})[datum.label] || '#000000'"}}}
   }},
  {"data": {"values": [{"t": "H ∥ (-101)"}]},
   "mark": {"type": "text", "align": "left", "baseline": "alphabetic", "fontSize": 16, "fontWeight": "bold", "font": "Liberation Sans"},
   "encoding": {"x": {"datum": 73.6, "type": "quantitative"}, "y": {"datum": 0.1833, "type": "quantitative"}, "text": {"field": "t"}}}
 ]
},
{
 "data": {"name": "ins1"},
 "encoding": {
   "x": {"field": "T", "type": "quantitative", "scale": {"domain": [28, 177], "range": [249.3, 383], "nice": false, "zero": false},
     "axis": {"orient": "top", "offset": -91, "values": [40,60,80,100,120,140,160], "labelExpr": "datum.value % 40 === 0 ? datum.label : ''", "tickSize": {"expr": "datum.value % 40 === 0 ? -4 : -2"}, "labelPadding": 7, "labelFontSize": 9.5, "title": "T(K)", "titleFontSize": 11, "titleBaseline": "alphabetic", "titleY": -14}},
   "y": {"field": "v", "type": "quantitative", "scale": {"domain": [0.0719, 0.5425], "range": [231.7, 91], "nice": false, "zero": false},
     "axis": {"orient": "left", "offset": -249.3, "values": [0.1,0.15,0.2,0.25,0.3,0.35,0.4,0.45,0.5], "format": ".1f", "labelExpr": "round(datum.value*100) % 10 === 0 ? datum.label : ''", "tickSize": {"expr": "round(datum.value*100) % 10 === 0 ? -4 : -2"}, "labelPadding": 6.6, "labelFontSize": 9.5, "title": null}},
   "color": {"field": "f", "type": "nominal",
      "scale": {"domain": ["0T","6T","7T","7.5T","8T","9T","10T","12T"], "range": ["#000000","#ff0000","#00ff00","#0000ff","#00ffff","#ff00ff","#808000","#800080"]},
      "legend": {"orient": "none", "legendX": 343.7, "legendY": 151, "title": null, "symbolSize": 25, "symbolStrokeWidth": 1, "labelFontSize": 8, "labelFontWeight": "bold", "labelOffset": 4.5, "rowPadding": -0.4, "padding": 0,
        "labelColor": {"expr": "({'6T':'#ff0000','7T':'#00ff00','7.5T':'#0000ff','8T':'#00ffff','9T':'#ff00ff','10T':'#808000','12T':'#800080'})[datum.label] || '#000000'"},
        "symbolType": {"expr": "({'0T':'M-2.6,0H-1M1,0H2.6M-1,-1H1V1H-1Z','7T':'M-2.6,0H-0.6M0.6,0H2.6M0,-1.1L1.05,0.75H-1.05Z','7.5T':'M-2.6,0H-0.6M0.6,0H2.6M0,1.1L1.05,-0.75H-1.05Z','8T':'M-2.6,0H-1.1M1.1,0H2.6M0,-1.1L1.1,0L0,1.1L-1.1,0Z','9T':'M-2.6,0H-1.1M0.8,0H2.6M-1.1,0L0.8,-1.05V1.05Z','10T':'M-2.6,0H-0.8M1.1,0H2.6M1.1,0L-0.8,-1.05V1.05Z','12T':'M-2.6,0H-1M1,0H2.6M-1,0A1,1 0 1,0 1,0A1,1 0 1,0 -1,0ZM-0.6,0A0.6,0.6 0 1,0 0.6,0A0.6,0.6 0 1,0 -0.6,0ZM-0.25,0A0.25,0.25 0 1,0 0.25,0A0.25,0.25 0 1,0 -0.25,0Z'})[datum.label] || 'M-2.6,0H-1M1,0H2.6M-1,0A1,1 0 1,0 1,0A1,1 0 1,0 -1,0Z'"},
        "symbolFillColor": "transparent"}}
 },
 "layer": [
   {"mark": {"type": "line", "strokeWidth": 0.8}},
   {"transform": [{"filter": "datum.f === '0T'"}], "mark": {"type": "point", "shape": "square", "filled": false, "size": 24, "strokeWidth": 0.8}},
   {"transform": [{"filter": "datum.f === '6T'"}], "mark": {"type": "point", "shape": "circle", "filled": false, "size": 26, "strokeWidth": 0.8}},
   {"transform": [{"filter": "datum.f === '7T'"}], "mark": {"type": "point", "shape": "triangle-up", "filled": false, "size": 26, "strokeWidth": 0.8}},
   {"transform": [{"filter": "datum.f === '7.5T'"}], "mark": {"type": "point", "shape": "triangle-down", "filled": false, "size": 26, "strokeWidth": 0.8}},
   {"transform": [{"filter": "datum.f === '8T'"}], "mark": {"type": "point", "shape": "diamond", "filled": false, "size": 26, "strokeWidth": 0.8}},
   {"transform": [{"filter": "datum.f === '9T'"}], "mark": {"type": "point", "shape": "triangle-left", "filled": false, "size": 26, "strokeWidth": 0.8}},
   {"transform": [{"filter": "datum.f === '10T'"}], "mark": {"type": "point", "shape": "triangle-right", "filled": false, "size": 26, "strokeWidth": 0.8}},
   {"transform": [{"filter": "datum.f === '12T'"}], "mark": {"type": "point", "shape": "circle", "filled": false, "size": 26, "strokeWidth": 0.8}}
 ]
},
{
 "data": {"name": "ins1"},
 "transform": [{"filter": "datum.f === '12T'"}],
 "mark": {"type": "point", "shape": "circle", "filled": true, "color": "#800080", "size": 22, "opacity": 1},
 "encoding": {
   "x": {"field": "T", "type": "quantitative", "scale": {"domain": [28, 177], "range": [249.3, 383], "nice": false, "zero": false}, "axis": null},
   "y": {"field": "v", "type": "quantitative", "scale": {"domain": [0.0719, 0.5425], "range": [231.7, 91], "nice": false, "zero": false}, "axis": null}
 }
},
{
 "data": {"values": [{"t": "dρ/dT (μΩ*cm*T⁻¹)"}]},
 "mark": {"type": "text", "angle": 270, "align": "center", "baseline": "middle", "fontSize": 11, "fontWeight": "bold", "font": "Liberation Sans", "color": "#000000", "dy": -17.6},
 "encoding": {
   "x": {"datum": 28, "type": "quantitative", "scale": {"domain": [28, 177], "range": [249.3, 383], "nice": false, "zero": false}, "axis": null},
   "y": {"datum": 0.3074, "type": "quantitative", "scale": {"domain": [0.0719, 0.5425], "range": [231.7, 91], "nice": false, "zero": false}, "axis": null},
   "text": {"field": "t"}
 }
},
{
 "data": {"name": "ins2"},
 "encoding": {
   "x": {"field": "T", "type": "quantitative", "scale": {"domain": [28, 178], "range": [249.3, 383], "nice": false, "zero": false},
     "axis": {"orient": "top", "offset": -336.7, "values": [40,60,80,100,120,140,160], "labelExpr": "datum.value % 40 === 0 ? datum.label : ''", "tickSize": {"expr": "datum.value % 40 === 0 ? -4 : -2"}, "labelPadding": 7, "labelFontSize": 9.5, "title": "T(K)", "titleFontSize": 11, "titleBaseline": "alphabetic", "titleY": -14}},
   "y": {"field": "v", "type": "quantitative", "scale": {"domain": [0.124, 0.537], "range": [485, 336.7], "nice": false, "zero": false},
     "axis": {"orient": "left", "offset": -249.3, "values": [0.15,0.2,0.25,0.3,0.35,0.4,0.45,0.5], "format": ".1f", "labelExpr": "round(datum.value*100) % 10 === 0 ? datum.label : ''", "tickSize": {"expr": "round(datum.value*100) % 10 === 0 ? -4 : -2"}, "labelPadding": 6.6, "labelFontSize": 9.5, "title": null}},
   "color": {"field": "f", "type": "nominal",
      "scale": {"domain": ["0T","6T","7.5T","8T","9T"], "range": ["#000000","#ff0000","#0000ff","#00ffff","#ff00ff"]},
      "legend": {"orient": "none", "legendX": 339, "legendY": 413.5, "title": null, "symbolSize": 25, "symbolStrokeWidth": 1, "labelFontSize": 8, "labelFontWeight": "bold", "labelOffset": 5, "rowPadding": 0.8, "padding": 0,
        "labelColor": {"expr": "({'6T':'#ff0000','7.5T':'#0000ff','8T':'#00ffff','9T':'#ff00ff'})[datum.label] || '#000000'"},
        "symbolType": {"expr": "({'0T':'M-2.6,0H-1M1,0H2.6M-1,-1H1V1H-1Z','7.5T':'M-2.6,0H-0.6M0.6,0H2.6M0,1.1L1.05,-0.75H-1.05Z','8T':'M-2.6,0H-1.1M1.1,0H2.6M0,-1.1L1.1,0L0,1.1L-1.1,0Z','9T':'M-2.6,0H-1.1M0.8,0H2.6M-1.1,0L0.8,-1.05V1.05Z'})[datum.label] || 'M-2.6,0H-1M1,0H2.6M-1,0A1,1 0 1,0 1,0A1,1 0 1,0 -1,0Z'"},
        "symbolFillColor": "transparent"}}
 },
 "layer": [
   {"mark": {"type": "line", "strokeWidth": 0.8}},
   {"transform": [{"filter": "datum.f === '0T'"}], "mark": {"type": "point", "shape": "square", "filled": false, "size": 24, "strokeWidth": 0.8}},
   {"transform": [{"filter": "datum.f === '6T'"}], "mark": {"type": "point", "shape": "circle", "filled": false, "size": 26, "strokeWidth": 0.8}},
   {"transform": [{"filter": "datum.f === '7.5T'"}], "mark": {"type": "point", "shape": "triangle-down", "filled": false, "size": 26, "strokeWidth": 0.8}},
   {"transform": [{"filter": "datum.f === '8T'"}], "mark": {"type": "point", "shape": "diamond", "filled": false, "size": 26, "strokeWidth": 0.8}},
   {"transform": [{"filter": "datum.f === '9T'"}], "mark": {"type": "point", "shape": "triangle-left", "filled": false, "size": 26, "strokeWidth": 0.8}}
 ]
},
{
 "data": {"values": [{"t": "dρ/dT (μΩ*cm*T⁻¹)"}]},
 "mark": {"type": "text", "angle": 270, "align": "center", "baseline": "middle", "fontSize": 11, "fontWeight": "bold", "font": "Liberation Sans", "color": "#000000", "dy": -17.6},
 "encoding": {
   "x": {"datum": 28, "type": "quantitative", "scale": {"domain": [28, 178], "range": [249.3, 383], "nice": false, "zero": false}, "axis": null},
   "y": {"datum": 0.3304, "type": "quantitative", "scale": {"domain": [0.124, 0.537], "range": [485, 336.7], "nice": false, "zero": false}, "axis": null},
   "text": {"field": "t"}
 }
},
{
 "data": {"name": "bot"},
 "mark": {"type": "point", "opacity": 0},
 "encoding": {
   "x": {"field": "T", "type": "quantitative", "scale": {"domain": [0, 300], "range": [249.3, 383], "nice": false, "zero": false},
     "axis": {"orient": "bottom", "offset": -305.3, "ticks": false, "labels": false, "title": null}},
   "y": {"field": "v", "type": "quantitative", "scale": {"domain": [0.1, 0.3], "range": [485, 0], "nice": false, "zero": false},
     "axis": {"orient": "right", "offset": -32, "ticks": false, "labels": false, "title": null}}
 }
},
{
 "data": {"name": "bot"},
 "mark": {"type": "point", "opacity": 0},
 "encoding": {
   "x": {"field": "T", "type": "quantitative", "scale": {"domain": [0, 300], "range": [61, 383], "nice": false, "zero": false},
     "axis": {"orient": "top", "offset": -239, "values": [0,25,50,75,100,125,150,175,200,225,250,275,300], "labels": false, "title": null, "tickSize": {"expr": "datum.value % 50 === 0 ? -6 : -3"}}}
 }
}
],
"resolve": {"scale": {"x": "independent", "y": "independent", "color": "independent"}, "axis": {"x": "independent", "y": "independent"}, "legend": {"color": "independent"}}
}
